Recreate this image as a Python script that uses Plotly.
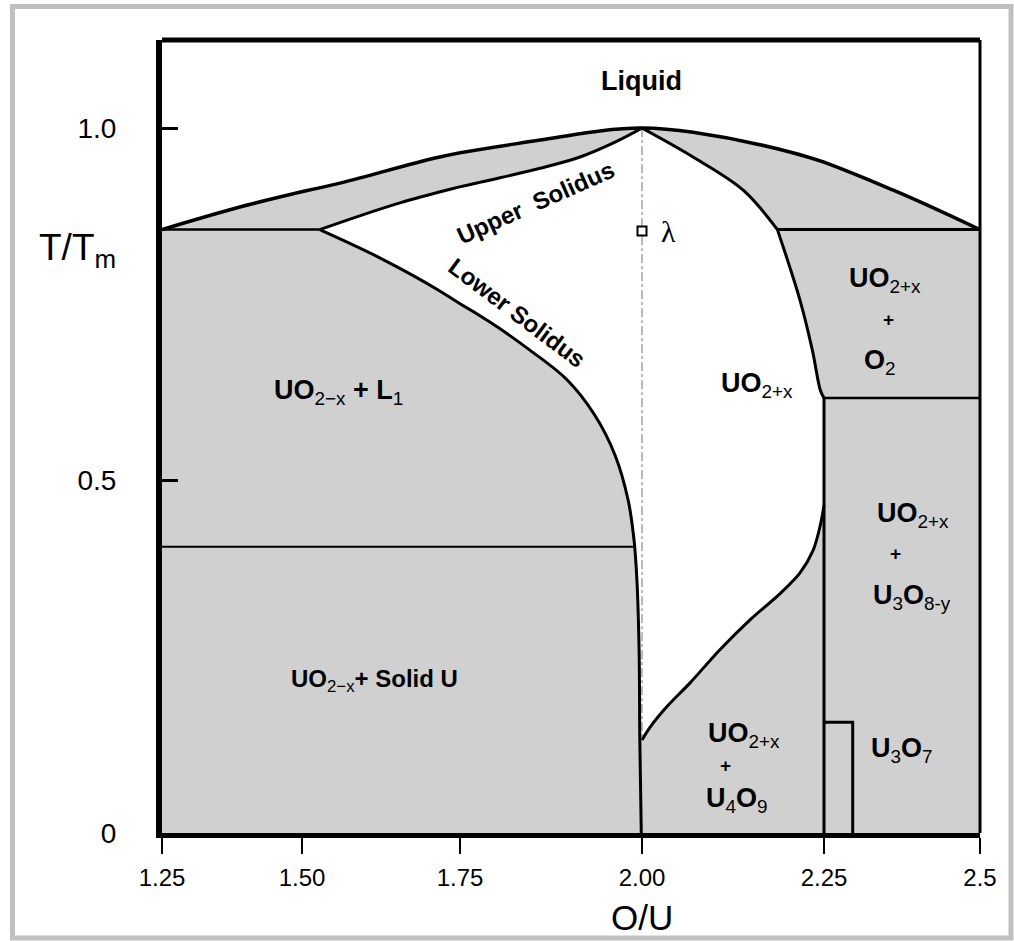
import plotly.graph_objects as go

# ---- axes -------------------------------------------------------------
# O/U axis is drawn as five linear pieces, one per labelled interval
OU_TICKS = [1.25, 1.50, 1.75, 2.00, 2.25, 2.50]
OU_TICK_TEXT = ["1.25", "1.50", "1.75", "2.00", "2.25", "2.5"]
SEG_DOMAIN = [0.0, 0.17115, 0.36430, 0.58680, 0.80929, 1.0]
T_TICKS = [0, 0.5, 1.0]
T_TICK_TEXT = ["0", "0.5", "1.0"]
T_MAX = 1.125

# ---- phase boundaries (O/U, T/Tm) -------------------------------------
liquidus_x = [1.25, 1.389, 1.560, 1.718, 1.860, 1.942, 2.00, 2.070, 2.207, 2.361, 2.50]
liquidus_t = [0.856, 0.888, 0.922, 0.959, 0.983, 0.996, 1.00, 0.994, 0.965, 0.912, 0.856]

upper_solidus_x = [1.528, 1.655, 1.777, 1.860, 1.915, 1.963, 2.00]
upper_solidus_t = [0.856, 0.894, 0.923, 0.943, 0.959, 0.980, 1.00]

lower_solidus_x = [1.528, 1.623, 1.718, 1.791, 1.846, 1.897, 1.935, 1.963, 1.981, 1.989, 1.993, 1.996, 1.997, 1.999]
lower_solidus_t = [0.856, 0.816, 0.769, 0.725, 0.685, 0.643, 0.593, 0.536, 0.472, 0.416, 0.359, 0.260, 0.132, 0.0]

right_solidus_x = [2.00, 2.070, 2.139, 2.186, 2.217, 2.234, 2.245, 2.25]
right_solidus_t = [1.00, 0.959, 0.912, 0.856, 0.756, 0.685, 0.628, 0.617]

hyper_lower_x = [2.25, 2.245, 2.235, 2.217, 2.190, 2.148, 2.107, 2.066, 2.034, 2.011, 2.00]
hyper_lower_t = [0.465, 0.437, 0.401, 0.369, 0.340, 0.302, 0.260, 0.213, 0.179, 0.150, 0.132]

monotectic_t = 0.856
eutectic_t = 0.406
eutectic_end_x = 1.990
o2_boundary_t = 0.617
u3o7_x = 2.296
u3o7_t = 0.157
lambda_x, lambda_t = 2.00, 0.854

GRAY = "#d0d0d0"
FONT = "Liberation Sans, Arial, sans-serif"

fig = go.Figure()
axes = ["x", "x2", "x3", "x4", "x5"]


def add_all(**kw):
    for ax in axes:
        fig.add_trace(go.Scatter(xaxis=ax, yaxis="y", showlegend=False,
                                 hoverinfo="skip", **kw))


def line(xs, ts, width=3, smooth=True):
    shape = dict(shape="spline", smoothing=1.0) if smooth else dict(shape="linear")
    add_all(x=xs, y=ts, mode="lines",
            line=dict(color="black", width=width, **shape))


# two-phase background below the liquidus
add_all(x=[OU_TICKS[0]] + liquidus_x + [OU_TICKS[-1]],
        y=[0] + liquidus_t + [0],
        mode="lines", fill="toself", fillcolor=GRAY, line=dict(width=0))

# single-phase UO2+x field
lo_idx = lower_solidus_t.index(0.132)
white_x = (upper_solidus_x + right_solidus_x[1:] + hyper_lower_x
           + lower_solidus_x[:lo_idx + 1][::-1])
white_t = (upper_solidus_t + right_solidus_t[1:] + hyper_lower_t
           + lower_solidus_t[:lo_idx + 1][::-1])
add_all(x=white_x, y=white_t, mode="lines", fill="toself",
        fillcolor="white", line=dict(width=0))

# dash-dot congruent composition line
add_all(x=[2.0, 2.0], y=[1.0, 0.132], mode="lines",
        line=dict(color="#777777", width=1, dash="dashdot"))

# boundaries
line(liquidus_x, liquidus_t, 3.5)
line(upper_solidus_x, upper_solidus_t, 3)
line(lower_solidus_x, lower_solidus_t, 3)
line(right_solidus_x[:4], right_solidus_t[:4], 3)
line(right_solidus_x[3:], right_solidus_t[3:], 3)
line(hyper_lower_x, hyper_lower_t, 3)
line([OU_TICKS[0], upper_solidus_x[0]], [monotectic_t, monotectic_t], 2.5, False)
line([right_solidus_x[3], OU_TICKS[-1]], [monotectic_t, monotectic_t], 3, False)
line([OU_TICKS[0], eutectic_end_x], [eutectic_t, eutectic_t], 2, False)
line([2.25, OU_TICKS[-1]], [o2_boundary_t, o2_boundary_t], 2.5, False)
line([2.25, 2.25], [o2_boundary_t, 0], 3, False)
line([2.25, u3o7_x, u3o7_x], [u3o7_t, u3o7_t, 0], 3, False)

# lambda point
add_all(x=[lambda_x], y=[lambda_t], mode="markers",
        marker=dict(symbol="square", size=9, color="white",
                    line=dict(color="black", width=2)))


def xref_for(x):
    for i in range(5):
        if x <= OU_TICKS[i + 1]:
            return axes[i]
    return axes[-1]


def label(x, t, text, size=27, angle=0, family=FONT, bold=False):
    if bold:
        text = "<b>" + text + "</b>"
    fig.add_annotation(x=x, y=t, xref=xref_for(x), yref="y", text=text,
                       showarrow=False, textangle=angle,
                       font=dict(family=family, size=size, color="black"),
                       xanchor="center", yanchor="middle")


SUB = "<sub>{}</sub>"
label(2.0, 1.067, "Liquid", 27, bold=True)
label(1.854, 0.894, "Upper  Solidus", 24, angle=-24, bold=True)
label(1.828, 0.738, "Lower Solidus", 24, angle=37, bold=True)
label(2.037, 0.853, "λ", 30, family="Liberation Serif, serif")
label(1.557, 0.626, "<b>UO</b>" + SUB.format("2−x") + "<b> + L</b>" + SUB.format("1"))
label(2.158, 0.635, "<b>UO</b>" + SUB.format("2+x"))
label(2.348, 0.784, "<b>UO</b>" + SUB.format("2+x"))
label(2.353, 0.728, "+", 19, bold=True)
label(2.340, 0.668, "<b>O</b>" + SUB.format("2"))
label(2.393, 0.451, "<b>UO</b>" + SUB.format("2+x"))
label(2.365, 0.397, "+", 19, bold=True)
label(2.391, 0.335, "<b>U</b>" + SUB.format("3") + "<b>O</b>" + SUB.format("8-y"))
label(1.615, 0.217, "<b>UO</b>" + SUB.format("2−x") + "<b>+ Solid U</b>", 24)
label(2.140, 0.139, "<b>UO</b>" + SUB.format("2+x"))
label(2.115, 0.096, "+", 19, bold=True)
label(2.130, 0.047, "<b>U</b>" + SUB.format("4") + "<b>O</b>" + SUB.format("9"))
label(2.375, 0.118, "<b>U</b>" + SUB.format("3") + "<b>O</b>" + SUB.format("7"))

# axis titles
fig.add_annotation(x=2.0, y=-0.107, xref="x4", yref="paper", text="O/U",
                   showarrow=False, xanchor="center", yanchor="middle",
                   font=dict(family=FONT, size=35, color="black"))
fig.add_annotation(x=-0.1027, y=0.827, xref="paper", yref="y",
                   text="T/T<sub>m</sub>", showarrow=False,
                   xanchor="center", yanchor="middle",
                   font=dict(family=FONT, size=37, color="black"))

layout = dict(
    width=1014, height=941,
    margin=dict(l=162, r=34, t=40, b=108),
    paper_bgcolor="white", plot_bgcolor="white",
    showlegend=False,
    yaxis=dict(range=[0, T_MAX], anchor="x", showline=True, linewidth=6,
               linecolor="black", ticks="inside", ticklen=16, tickwidth=3,
               tickcolor="black", tickvals=T_TICKS, ticktext=T_TICK_TEXT,
               showgrid=False, zeroline=False, ticklabelstandoff=34,
               tickfont=dict(family=FONT, size=28, color="black")),
)
for i, ax in enumerate(axes):
    tv = [OU_TICKS[i]] + ([OU_TICKS[i + 1]] if i == 4 else [])
    tt = [OU_TICK_TEXT[i]] + ([OU_TICK_TEXT[i + 1]] if i == 4 else [])
    key = "xaxis" if i == 0 else "xaxis%d" % (i + 1)
    layout[key] = dict(domain=[SEG_DOMAIN[i], SEG_DOMAIN[i + 1]],
                       range=[OU_TICKS[i], OU_TICKS[i + 1]], anchor="y",
                       showline=True, linewidth=5, linecolor="black",
                       ticks="outside", ticklen=16, tickwidth=2,
                       tickcolor="black", tickvals=tv, ticktext=tt,
                       showgrid=False, zeroline=False, ticklabelstandoff=3,
                       tickfont=dict(family=FONT, size=24, color="black"))
fig.update_layout(**layout)

# frame: top and right edges of the plot box, grey border round the page
fig.add_shape(type="line", xref="paper", yref="paper", x0=0, x1=1, y0=1, y1=1,
              line=dict(color="black", width=5), layer="above")
fig.add_shape(type="line", xref="paper", yref="paper", x0=1, x1=1, y0=0, y1=1,
              line=dict(color="black", width=3), layer="above")
fig.add_shape(type="rect", xref="paper", yref="paper",
              x0=-0.1828, x1=1.0379, y0=-0.1324, y1=1.0422,
              line=dict(color="#c0c0c0", width=5), layer="below")

fig.write_html("out.html")
